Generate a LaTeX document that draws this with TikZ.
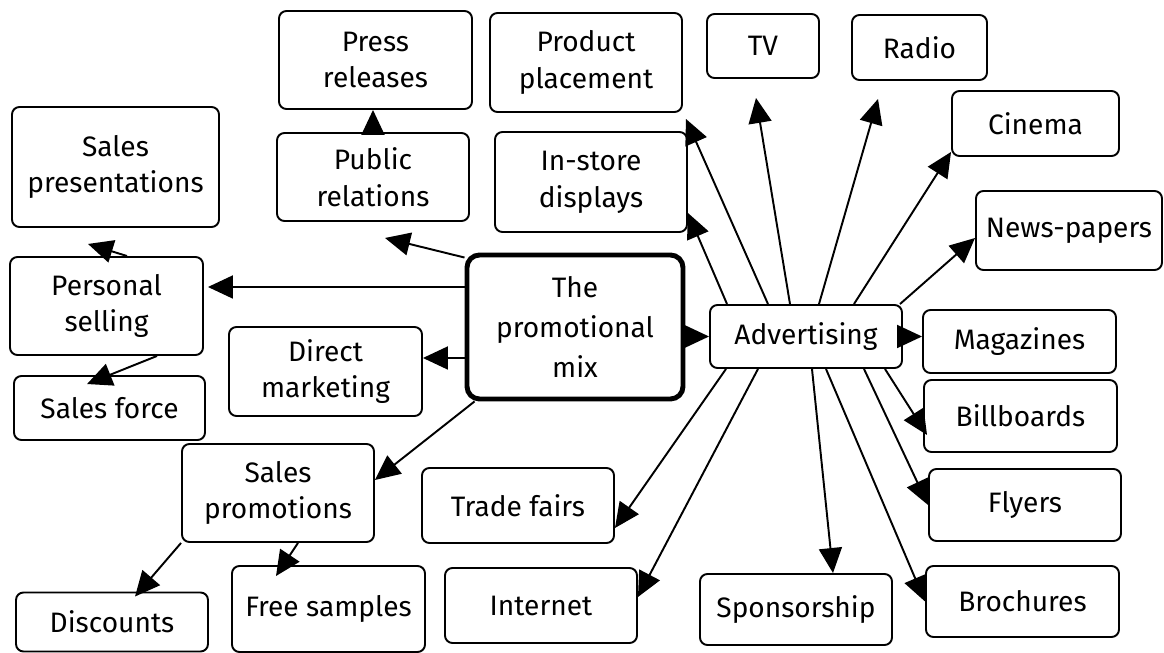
\documentclass[tikz,border=0pt]{standalone}
\usepackage{fontspec}
\setmainfont{Fira Sans}
\usetikzlibrary{arrows.meta}

\begin{document}
\begin{tikzpicture}[
	box/.style={draw, line width=1.1pt, rounded corners=0.15cm, align=center, inner sep=0pt, font=\fontsize{16}{21}\selectfont},
	mixbox/.style={box, line width=2.8pt, rounded corners=0.25cm, font=\fontsize{16}{22.5}\selectfont},
	arr/.style={-{Triangle[length=0.5cm,width=0.46cm]}, line width=1.1pt}
	]
	\useasboundingbox (0,0) rectangle (23.28,-13.06);
	
	%Central node
	\node (promomix) at (11.50,-6.54) [mixbox, minimum width=4.32cm, minimum height=2.88cm]{The\\promotional\\mix};
	
	%Left branch nodes
	\node (pressrel) at (7.51,-1.20) [box, minimum width=3.86cm, minimum height=1.96cm]{Press\\releases};
	
	\node (publicrel) at (7.46,-3.54) [box, minimum width=3.84cm, minimum height=1.76cm]{Public\\relations};
	
	\node (salespres) at (2.31,-3.34) [box, minimum width=4.14cm, minimum height=2.40cm]{Sales\\presentations};
	
	\node (personal) at (2.13,-6.12) [box, minimum width=3.86cm, minimum height=1.96cm]{Personal\\selling};
	
	\node (salesforce) at (2.19,-8.16) [box, minimum width=3.82cm, minimum height=1.28cm]{Sales force};
	
	\node (direct) at (6.51,-7.43) [box, minimum width=3.86cm, minimum height=1.78cm]{Direct\\marketing};
	
	\node (salesprom) at (5.56,-9.86) [box, minimum width=3.84cm, minimum height=1.96cm]{Sales\\promotions};
	
	\node (discounts) at (2.24,-12.44) [box, minimum width=3.84cm, minimum height=1.18cm]{Discounts};
	
	\node (freesamples) at (6.57,-12.18) [box, minimum width=3.86cm, minimum height=1.72cm]{Free samples};
	
	%Advertising nodes
	\node (advertising) at (16.12,-6.73) [box, minimum width=3.84cm, minimum height=1.26cm]{Advertising};
	
	\node (prodplace) at (11.72,-1.25) [box, minimum width=3.84cm, minimum height=1.98cm]{Product\\placement};
	
	\node (instore) at (11.82,-3.64) [box, minimum width=3.84cm, minimum height=2.0cm]{In-store\\displays};
	
	\node (tv) at (15.26,-0.92) [box, minimum width=2.24cm, minimum height=1.28cm]{TV};
	
	\node (radio) at (18.39,-0.95) [box, minimum width=2.70cm, minimum height=1.30cm]{Radio};
	
	\node (cinema) at (20.71,-2.47) [box, minimum width=3.34cm, minimum height=1.30cm]{Cinema};
	
	\node (newspapers) at (21.38,-4.61) [box, minimum width=3.72cm, minimum height=1.58cm]{News-papers};
	
	\node (magazines) at (20.39,-6.83) [box, minimum width=3.86cm, minimum height=1.26cm]{Magazines};
	
	\node (billboards) at (20.41,-8.32) [box, minimum width=3.86cm, minimum height=1.44cm]{Billboards};
	
	\node (flyers) at (20.50,-10.10) [box, minimum width=3.84cm, minimum height=1.44cm]{Flyers};
	
	\node (brochures) at (20.45,-12.03) [box, minimum width=3.86cm, minimum height=1.42cm]{Brochures};
	
	\node (sponsorship) at (15.92,-12.19) [box, minimum width=3.84cm, minimum height=1.42cm]{Sponsorship};
	
	\node (internet) at (10.82,-12.11) [box, minimum width=3.84cm, minimum height=1.50cm]{Internet};
	
	\node (tradefairs) at (10.36,-10.11) [box, minimum width=3.84cm, minimum height=1.50cm]{Trade fairs};
	
	%Left branch links
	\coordinate (persTip) at ([shift={(0.08,0.38)}]personal.east);
	\coordinate (dirTip) at ([yshift=0.27cm]direct.east);
	
	\draw[arr] (publicrel.north) -- (publicrel.north |- pressrel.south);
	
	\draw[arr] ([yshift=-0.1cm]promomix.north west) -- ([shift={(0.24,-0.32)}]publicrel.south);
	
	\draw[arr] (promomix.west |- persTip) -- (persTip);
	
	\draw[arr] (promomix.west |- dirTip) -- (dirTip);
	
	\draw[arr] ([xshift=0.2cm]promomix.south west) -- ([yshift=0.26cm]salesprom.east);
	
	\draw[arr] ([xshift=0.41cm]personal.north) -- ([shift={(-0.55,-0.32)}]salespres.south);
	
	\draw[arr] ([xshift=1.01cm]personal.south) -- ([shift={(-0.45,-0.18)}]salesforce.north);
	
	\draw[arr] (salesprom.south west) -- ([shift={(0.46,-0.1)}]discounts.north);
	
	\draw[arr] ([xshift=0.4cm]salesprom.south) -- ([shift={(-1.05,-0.22)}]freesamples.north);
	
	%Advertising links
	\draw[arr] (promomix.east |- advertising.west) -- (advertising.west);
	
	\draw[arr] (advertising.east) -- (advertising.east -| magazines.west);
	
	\draw[arr] ([xshift=-1.58cm]advertising.north) -- ([yshift=-0.62cm]instore.east);
	
	\draw[arr] ([xshift=-0.76cm]advertising.north) -- ([shift={(0.06,-0.12)}]prodplace.south east);
	
	\draw[arr] ([xshift=-0.32cm]advertising.north) -- ([shift={(-0.14,-0.38)}]tv.south);
	
	\draw[arr] ([xshift=0.26cm]advertising.north) -- ([shift={(-0.83,-0.36)}]radio.south);
	
	\draw[arr] ([xshift=0.96cm]advertising.north) -- ([yshift=0.1cm]cinema.south west);
	
	\draw[arr] ([xshift=1.88cm]advertising.north) -- ([yshift=-0.15cm]newspapers.west);
	
	\draw[arr] ([xshift=-1.60cm]advertising.south) -- ([yshift=-0.45cm]tradefairs.east);
	
	\draw[arr] ([xshift=-0.96cm]advertising.south) -- ([yshift=0.17cm]internet.east);
	
	\draw[arr] ([xshift=0.12cm]advertising.south) -- ([xshift=0.74cm]sponsorship.north);
	
	\draw[arr] ([xshift=0.40cm]advertising.south) -- (brochures.west);
	
	\draw[arr] ([xshift=1.16cm]advertising.south) -- (flyers.west);
	
	\draw[arr] ([xshift=1.58cm]advertising.south) -- ([shift={(0.08,-0.38)}]billboards.west);
	
\end{tikzpicture}
\end{document}
